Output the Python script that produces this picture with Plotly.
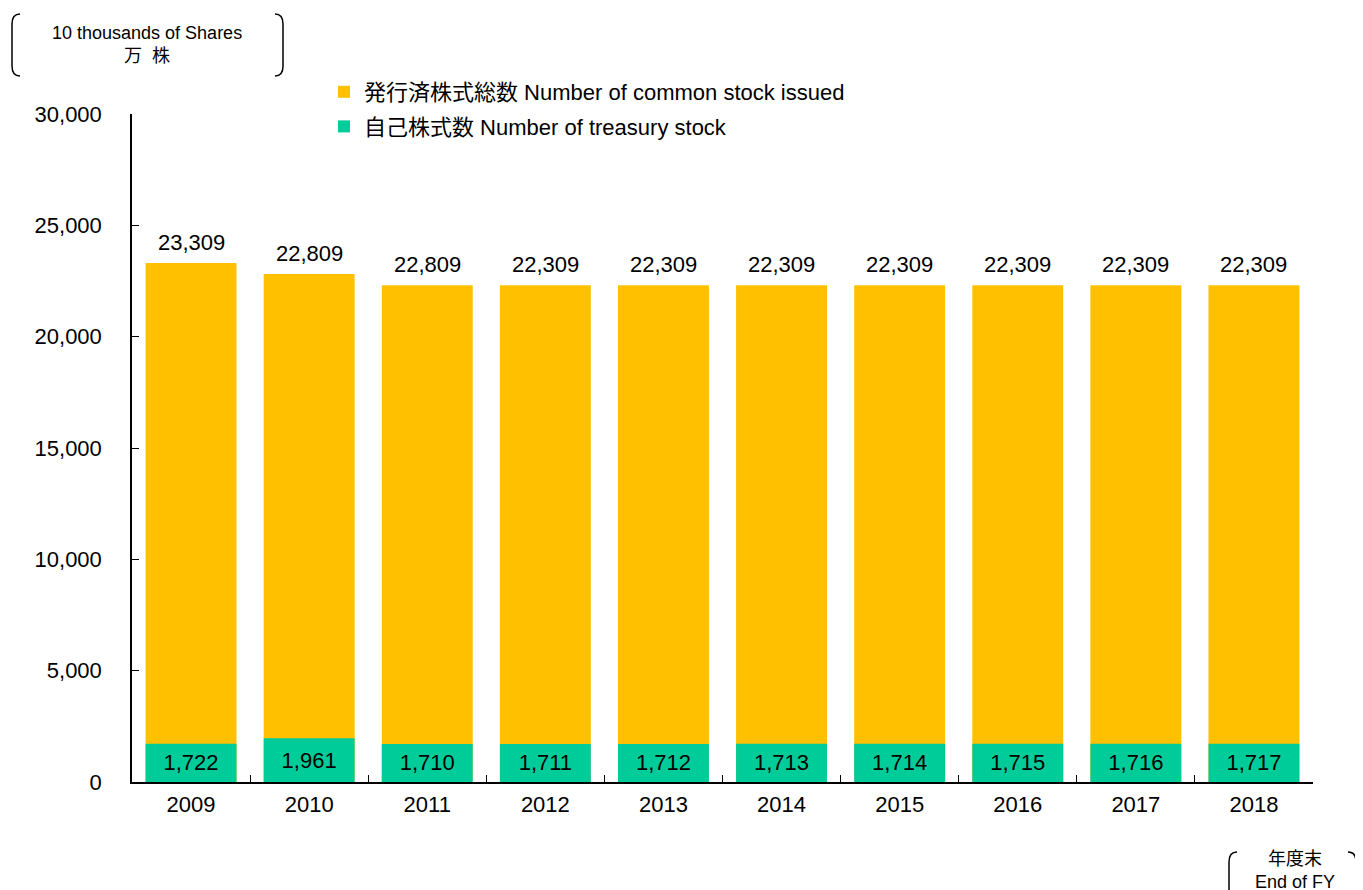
import plotly.graph_objects as go

years = ["2009", "2010", "2011", "2012", "2013", "2014", "2015", "2016", "2017", "2018"]
issued = [23309, 22809, 22309, 22309, 22309, 22309, 22309, 22309, 22309, 22309]
issued_labels = ["23,309", "22,809", "22,809", "22,309", "22,309", "22,309", "22,309", "22,309", "22,309", "22,309"]
treasury = [1722, 1961, 1710, 1711, 1712, 1713, 1714, 1715, 1716, 1717]
y_ticks = [0, 5000, 10000, 15000, 20000, 25000, 30000]

W, H = 1363, 890
OFF = 8  # page offset
L, R, T, B = 124, 58, 106, 116
PW, PH = W - L - R, H - T - B

def px(x):
    return (x - OFF - L) / PW

def py(y):
    return (H - B - (y - OFF)) / PH

FONT = "Arial, 'Liberation Sans', 'Noto Sans CJK JP', sans-serif"

fig = go.Figure()
fig.add_trace(go.Bar(
    x=years, y=issued, name="発行済株式総数 Number of common stock issued",
    marker=dict(color="#FFC000", line=dict(width=0)), legendgroup="a",
))
fig.add_trace(go.Bar(
    x=years, y=treasury, name="自己株式数 Number of treasury stock",
    marker=dict(color="#00CC99", line=dict(width=0)), legendgroup="b",
    text=[f"{v:,}" for v in treasury], textposition="inside", insidetextanchor="middle",
    textfont=dict(size=22, color="black"), constraintext="none",
))

def bracket_left(x0, y0, y1, w=8):
    return (f"M {px(x0+w)},{py(y0)} Q {px(x0)},{py(y0)} {px(x0)},{py(y0+10)} "
            f"L {px(x0)},{py(y1-10)} Q {px(x0)},{py(y1)} {px(x0+w)},{py(y1)}")

def bracket_right(x0, y0, y1, w=8):
    return (f"M {px(x0-w)},{py(y0)} Q {px(x0)},{py(y0)} {px(x0)},{py(y0+10)} "
            f"L {px(x0)},{py(y1-10)} Q {px(x0)},{py(y1)} {px(x0-w)},{py(y1)}")

shapes = [
    dict(type="path", xref="paper", yref="paper", path=bracket_left(12, 14, 76), line=dict(color="black", width=1.5)),
    dict(type="path", xref="paper", yref="paper", path=bracket_right(283, 14, 76), line=dict(color="black", width=1.5)),
    dict(type="path", xref="paper", yref="paper", path=bracket_left(1229, 852, 902), line=dict(color="black", width=1.5)),
    dict(type="path", xref="paper", yref="paper", path=bracket_right(1356, 852, 902), line=dict(color="black", width=1.5)),
]

annotations = [
    dict(text="10 thousands of Shares<br>万  株", xref="paper", yref="paper", x=px(147), y=py(44),
         xanchor="center", yanchor="middle", showarrow=False, font=dict(size=18, color="black")),
    dict(text="年度末<br>End of FY", xref="paper", yref="paper", x=px(1295), y=py(870),
         xanchor="center", yanchor="middle", showarrow=False, font=dict(size=18, color="black")),
]
for i, (v, lab) in enumerate(zip(issued, issued_labels)):
    annotations.append(dict(text=lab, x=i, y=v, xref="x", yref="y", yanchor="bottom",
                            showarrow=False, yshift=6, font=dict(size=22, color="black")))

fig.update_layout(
    width=W, height=H,
    margin=dict(l=L, r=R, t=T, b=B),
    paper_bgcolor="white", plot_bgcolor="white",
    barmode="overlay", bargap=0.23,
    font=dict(family=FONT, size=22, color="black"),
    showlegend=True,
    legend=dict(x=px(324), y=py(71), xanchor="left", yanchor="top", font=dict(size=22),
                bgcolor="rgba(0,0,0,0)", traceorder="grouped", itemwidth=30, tracegroupgap=3),
    shapes=shapes, annotations=annotations,
    xaxis=dict(type="category", categoryorder="array", categoryarray=years,
               showline=True, linecolor="black", linewidth=1.5,
               ticks="inside", tickson="boundaries", ticklen=7, tickcolor="black", tickwidth=1,
               showgrid=False, tickfont=dict(size=22), ticklabelstandoff=2),
    yaxis=dict(range=[0, 30000], tickvals=y_ticks, tickformat=",d", showline=True,
               linecolor="black", linewidth=1.5, ticks="inside", ticklen=7, tickcolor="black", tickwidth=1,
               showgrid=False, zeroline=False, tickfont=dict(size=22), ticklabelstandoff=24),
)

fig.write_html("out.html")
